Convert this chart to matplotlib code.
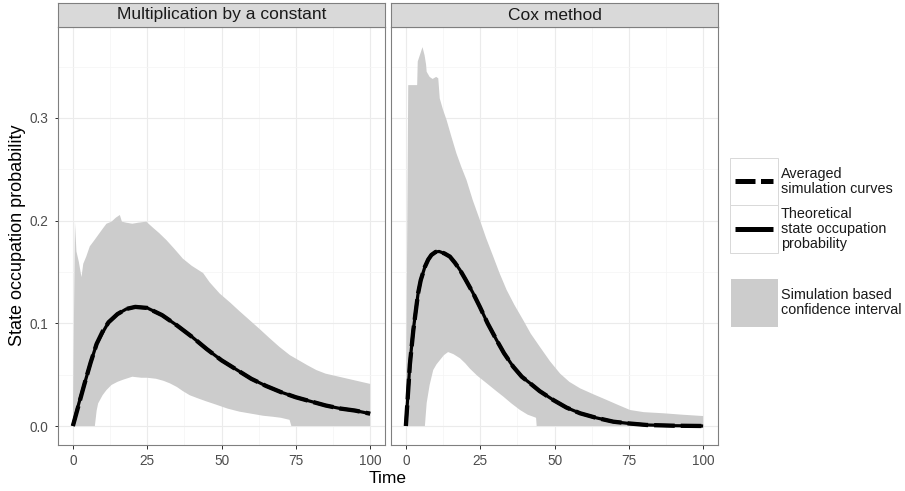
import matplotlib
matplotlib.use('Agg')
import matplotlib.pyplot as plt
from matplotlib.patches import Rectangle
from matplotlib.lines import Line2D
import numpy as np

plt.rcParams['font.family'] = ['Liberation Sans', 'DejaVu Sans']

# ---------------- data ----------------
panel_titles = ["Multiplication by a constant", "Cox method"]
x_ticks = [0, 25, 50, 75, 100]
y_ticks = [0.0, 0.1, 0.2, 0.3]
y_tick_labels = ["0.0", "0.1", "0.2", "0.3"]

# Panel 1: Multiplication by a constant
mult_theo_t = [0, 2, 4, 6, 8, 10, 12, 15, 18, 21, 25, 30, 35, 40, 45, 50, 55, 60,
               65, 70, 75, 80, 85, 90, 95, 100]
mult_theo_p = [0.0, 0.022, 0.042, 0.062, 0.080, 0.091, 0.101, 0.109, 0.114, 0.116,
               0.115, 0.108, 0.098, 0.087, 0.075, 0.064, 0.055, 0.046, 0.039, 0.033,
               0.028, 0.024, 0.020, 0.017, 0.015, 0.012]
mult_avg_t = mult_theo_t
mult_avg_p = [0.0, 0.021, 0.042, 0.062, 0.080, 0.092, 0.101, 0.109, 0.114, 0.116,
              0.115, 0.108, 0.098, 0.087, 0.075, 0.064, 0.055, 0.046, 0.039, 0.033,
              0.028, 0.024, 0.020, 0.017, 0.015, 0.012]
mult_up_t = [0, 0.7, 1.2, 2.0, 2.9, 3.5, 4.5, 5.7, 7, 8.5, 10, 11.3, 13, 14.5, 15.8,
             16.5, 18, 20, 22, 24.7, 27, 29, 31.5, 34, 37, 40, 43.8, 46, 49.4, 53,
             56, 59.5, 63, 66, 69.5, 73, 76, 79, 81.9, 85, 88, 91, 94, 97, 100]
mult_up_p = [0.0, 0.199, 0.170, 0.160, 0.145, 0.158, 0.165, 0.175, 0.180, 0.186,
             0.192, 0.197, 0.199, 0.203, 0.2055, 0.199, 0.198, 0.197, 0.198, 0.199,
             0.193, 0.188, 0.181, 0.173, 0.163, 0.156, 0.149, 0.140, 0.129, 0.120,
             0.112, 0.103, 0.094, 0.086, 0.077, 0.069, 0.064, 0.059, 0.0545, 0.051,
             0.049, 0.047, 0.045, 0.043, 0.041]
mult_lo_t = [0, 7.4, 8.0, 8.5, 10, 11.3, 13, 15, 16.8, 20, 23, 25, 28, 30.5, 32.6,
             35, 37, 39.3, 42, 44.9, 48, 52, 56, 60, 64, 67.3, 70, 72.9, 73.5, 100]
mult_lo_p = [0.0, 0.0, 0.015, 0.022, 0.030, 0.035, 0.040, 0.043, 0.045, 0.048,
             0.047, 0.047, 0.046, 0.044, 0.0416, 0.038, 0.034, 0.030, 0.027, 0.024,
             0.021, 0.017, 0.014, 0.012, 0.010, 0.009, 0.008, 0.006, 0.0, 0.0]

# Panel 2: Cox method
cox_theo_t = [0, 1.35, 2.5, 4.1, 5, 6.4, 7.5, 8.6, 10, 11.2, 13, 14.8, 16.5, 18.2,
              20, 22.5, 24.9, 27.5, 30.5, 33, 36.1, 39, 41.8, 45, 49.6, 54, 58.6,
              64, 69.8, 75, 81, 90, 100]
cox_theo_p = [0.0, 0.061, 0.0935, 0.129, 0.142, 0.155, 0.162, 0.1666, 0.1695, 0.170,
              0.168, 0.165, 0.159, 0.152, 0.143, 0.130, 0.116, 0.100, 0.0838, 0.071,
              0.0578, 0.048, 0.0416, 0.034, 0.0253, 0.018, 0.0124, 0.008, 0.0042,
              0.0025, 0.001, 0.0003, 0.0]
cox_avg_t = cox_theo_t
cox_avg_p = [0.0, 0.060, 0.093, 0.129, 0.142, 0.155, 0.162, 0.1666, 0.1695, 0.170,
             0.168, 0.165, 0.159, 0.152, 0.143, 0.130, 0.116, 0.100, 0.0838, 0.071,
             0.0578, 0.048, 0.0416, 0.034, 0.0253, 0.018, 0.0124, 0.008, 0.0042,
             0.0025, 0.001, 0.0003, 0.0]
cox_up_t = [0, 0.8, 2, 3.8, 4.0, 4.8, 5.6, 6.3, 6.8, 7.0, 8, 9, 10.2, 10.9, 11.4,
            12.5, 13.7, 15.3, 17, 18.7, 20.4, 22.5, 24.9, 27, 29.4, 31.5, 33.9, 36.5,
            39.5, 42, 45.1, 48.5, 51.9, 55, 58.6, 63, 67.6, 71, 75.4, 80, 86.6, 93, 100]
cox_up_p = [0.0, 0.332, 0.332, 0.332, 0.355, 0.362, 0.369, 0.361, 0.352, 0.345,
            0.340, 0.338, 0.340, 0.3386, 0.319, 0.308, 0.298, 0.282, 0.2656, 0.252,
            0.2396, 0.220, 0.2006, 0.183, 0.165, 0.149, 0.1325, 0.118, 0.103, 0.090,
            0.077, 0.063, 0.051, 0.043, 0.0367, 0.031, 0.0253, 0.021, 0.0156, 0.0135,
            0.0124, 0.011, 0.0097]
cox_lo_t = [0, 6.4, 7.0, 8, 9.2, 10.3, 11.4, 12.8, 14.2, 16, 18.2, 20, 21.5, 24,
            27.2, 30, 32.8, 35.5, 38.4, 41, 42.9, 43.8, 44.0, 100]
cox_lo_p = [0.0, 0.0, 0.0224, 0.040, 0.0545, 0.060, 0.064, 0.069, 0.072, 0.070,
            0.066, 0.061, 0.056, 0.049, 0.0416, 0.035, 0.0286, 0.022, 0.0156, 0.011,
            0.009, 0.008, 0.0, 0.0]

panels = [
    (mult_theo_t, mult_theo_p, mult_avg_t, mult_avg_p, mult_up_t, mult_up_p, mult_lo_t, mult_lo_p),
    (cox_theo_t, cox_theo_p, cox_avg_t, cox_avg_p, cox_up_t, cox_up_p, cox_lo_t, cox_lo_p),
]

legend_labels = ["Averaged\nsimulation curves",
                 "Theoretical\nstate occupation\nprobability",
                 "Simulation based\nconfidence interval"]

# ---------------- figure ----------------
W, H = 905, 491
fig = plt.figure(figsize=(W / 100, H / 100), dpi=100)


def ax_px(x0, y0, x1, y1):
    return fig.add_axes([x0 / W, 1 - y1 / H, (x1 - x0) / W, (y1 - y0) / H])


def fx(px):
    return px / W


def fy(py):
    return 1 - py / H


BORDER = '#7F7F7F'
RIBBON = '#CCCCCC'
panel_x = [(58, 385), (391, 718)]
PT = 72 / 100  # points per pixel

for i, (title, data) in enumerate(zip(panel_titles, panels)):
    tt, tp, at, ap, ut, up, lt, lp = data
    x0, x1 = panel_x[i]
    ax = ax_px(x0, 27, x1, 445)
    ax.set_xlim(-5, 105)
    ax.set_ylim(-0.0185, 0.3886)
    ax.set_xticks(x_ticks)
    ax.set_xticks([12.5, 37.5, 62.5, 87.5], minor=True)
    ax.set_yticks(y_ticks)
    ax.set_yticks([0.05, 0.15, 0.25, 0.35], minor=True)
    ax.grid(which='major', color='#EBEBEB', lw=1.1 * PT)
    ax.grid(which='minor', color='#F5F5F5', lw=0.8 * PT)
    ax.set_axisbelow(True)
    for s in ax.spines.values():
        s.set_color(BORDER)
        s.set_linewidth(1.1 * PT)
    ax.tick_params(which='minor', length=0)
    ax.tick_params(which='major', direction='out', length=3.5 * PT, width=1.0 * PT,
                   color='#333333', labelsize=9.8, labelcolor='#4D4D4D')
    ax.tick_params(axis='x', pad=4.3)
    if i == 0:
        ax.set_yticklabels(y_tick_labels)
        ax.tick_params(axis='y', pad=4.2)
    else:
        ax.tick_params(axis='y', length=0, labelleft=False)

    ax.fill(np.r_[ut, lt[::-1]], np.r_[up, lp[::-1]], color=RIBBON, lw=0, zorder=2)
    ax.plot(tt, tp, color='black', lw=3.2 * PT, solid_capstyle='butt', zorder=3)
    ax.plot(at, ap, color='black', lw=4.3 * PT, dashes=(4.8, 1.4),
            dash_capstyle='butt', zorder=4)

    # strip
    sx = ax_px(x0, 3, x1, 27)
    sx.set_facecolor('#D9D9D9')
    sx.set_xticks([])
    sx.set_yticks([])
    for s in sx.spines.values():
        s.set_color(BORDER)
        s.set_linewidth(1.1 * PT)
    sx.text(0.5, 0.5, title, ha='center', va='center', fontsize=12.5,
            color='#1A1A1A', transform=sx.transAxes)

# axis titles
fig.text(fx(388), fy(483), "Time", ha='center', va='baseline', fontsize=12.5)
fig.text(fx(18), fy(235), "State occupation probability", ha='center', va='center',
         rotation=90, fontsize=13)

# legend
KEY_EDGE = '#D9D9D9'
keys = [(158, 205), (205, 253), (278, 327)]
for j, (ky0, ky1) in enumerate(keys):
    if j < 2:
        fig.add_artist(Rectangle((fx(730), fy(ky1)), fx(778) - fx(730), fy(ky0) - fy(ky1),
                                 transform=fig.transFigure, facecolor='white',
                                 edgecolor=KEY_EDGE, lw=1.0 * PT))
    else:
        fig.add_artist(Rectangle((fx(730), fy(ky1)), fx(778) - fx(730), fy(ky0) - fy(ky1),
                                 transform=fig.transFigure, facecolor=RIBBON,
                                 edgecolor='white', lw=1.0 * PT))
    fig.text(fx(781), fy((ky0 + ky1) / 2), legend_labels[j], ha='left', va='center',
             fontsize=10.4, linespacing=1.05, color='#1A1A1A')

yk = fy((keys[0][0] + keys[0][1]) / 2)
fig.add_artist(Line2D([fx(735), fx(773)], [yk, yk], transform=fig.transFigure,
                      color='black', lw=5 * PT, dashes=(4.0, 1.1), dash_capstyle='butt'))
yk = fy((keys[1][0] + keys[1][1]) / 2)
fig.add_artist(Line2D([fx(735), fx(773)], [yk, yk], transform=fig.transFigure,
                      color='black', lw=5 * PT, solid_capstyle='butt'))

fig.savefig('out.png', dpi=100)
